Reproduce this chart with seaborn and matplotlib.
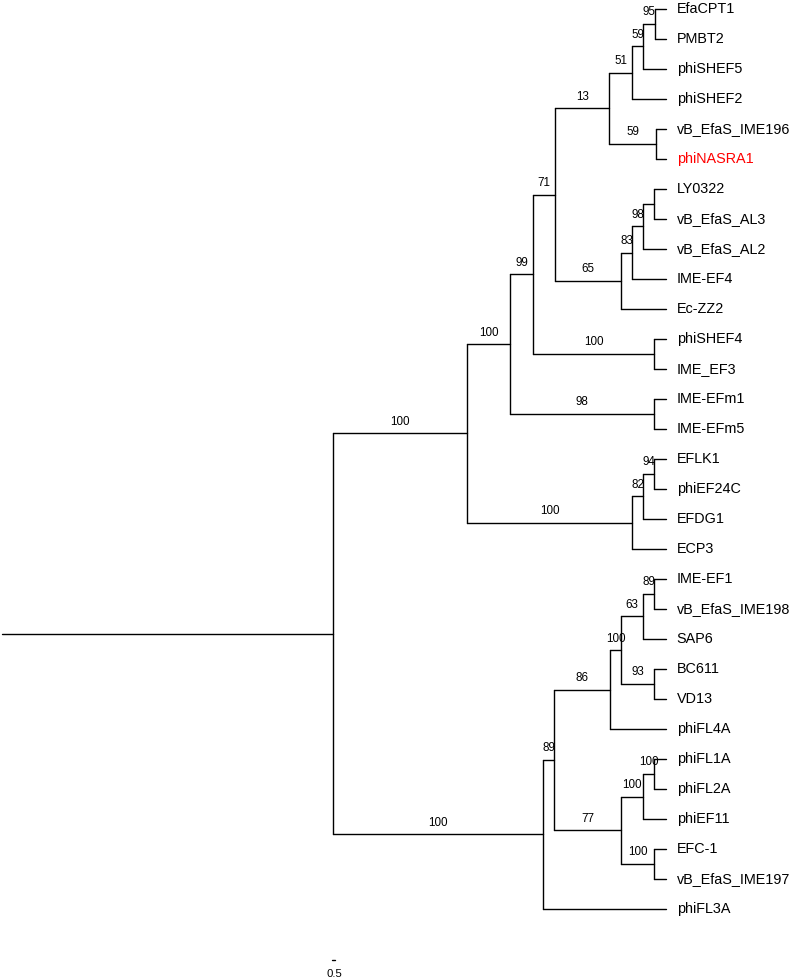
import pandas as pd
import matplotlib
matplotlib.use("Agg")
import matplotlib.pyplot as plt
import seaborn as sns

# tip labels, top to bottom, and the internal node each hangs from
leaves = ["EfaCPT1", "PMBT2", "phiSHEF5", "phiSHEF2", "vB_EfaS_IME196", "phiNASRA1",
          "LY0322", "vB_EfaS_AL3", "vB_EfaS_AL2", "IME-EF4", "Ec-ZZ2",
          "phiSHEF4", "IME_EF3", "IME-EFm1", "IME-EFm5",
          "EFLK1", "phiEF24C", "EFDG1", "ECP3",
          "IME-EF1", "vB_EfaS_IME198", "SAP6", "BC611", "VD13", "phiFL4A",
          "phiFL1A", "phiFL2A", "phiEF11", "EFC-1", "vB_EfaS_IME197", "phiFL3A"]
leaf_parent = ["L2", "L2", "L1", "J", "K", "K",
               "nLY", "nLY", "n98", "n83", "I",
               "G", "G", "F", "F",
               "n94", "n94", "n82", "E",
               "U", "U", "S", "T", "T", "N",
               "X", "X", "V", "W", "W", "L"]
highlight = "phiNASRA1"

# internal nodes: parent, depth from the start of the root edge, bootstrap
node_names = ["R", "A", "B", "C", "D", "H", "J", "L1", "L2", "K", "I", "n83", "n98", "nLY",
              "G", "F", "E", "n82", "n94",
              "L", "M", "N", "Q", "S", "U", "T", "P", "V", "X", "W"]
node_parent = [None, "R", "A", "B", "C", "D", "H", "J", "L1", "H", "D", "I", "n83", "n98",
               "C", "B", "A", "E", "n82",
               "R", "L", "M", "N", "Q", "S", "Q", "M", "P", "V", "P"]
node_depth = [55.2, 77.5, 84.7, 88.5, 92.2, 101.2, 105.0, 106.8, 108.8, 109.0, 103.2, 105.0, 106.8, 108.7,
              108.7, 108.7, 105.0, 106.8, 108.7,
              90.2, 92.0, 101.3, 103.2, 106.8, 108.7, 108.7, 103.2, 106.8, 108.7, 108.7]
support = ["", "100", "100", "99", "71", "13", "51", "59", "95", "59", "65", "83", "98", "",
           "100", "98", "100", "82", "94",
           "100", "89", "86", "100", "63", "89", "93", "77", "100", "100", "100"]
tip_depth = 110.6
scale_len = 0.5

# layout: tips at 0..n-1, internal nodes at the mean of their children
depth = dict(zip(node_names, node_depth))
parent = dict(zip(node_names, node_parent))
ypos = {name: i for i, name in enumerate(leaves)}
for name in leaves:
    depth[name] = tip_depth
for name, p in zip(leaves, leaf_parent):
    parent[name] = p
children = {n: [] for n in node_names}
for name, p in parent.items():
    if p is not None:
        children[p].append(name)


def place(n):
    if n in ypos:
        return ypos[n]
    ys = [place(c) for c in children[n]]
    ypos[n] = sum(ys) / len(ys)
    return ypos[n]


place("R")

rows = []
seg = 0
rows += [(seg, 0.0, ypos["R"]), (seg, depth["R"], ypos["R"])]
for name, p in parent.items():
    if p is None:
        continue
    seg += 1
    rows += [(seg, depth[p], ypos[name]), (seg, depth[name], ypos[name])]
for n in node_names:
    ys = [ypos[c] for c in children[n]]
    seg += 1
    rows += [(seg, depth[n], min(ys)), (seg, depth[n], max(ys))]
segs = pd.DataFrame(rows, columns=["seg", "x", "y"])

sns.set_theme(style="white")
plt.rcParams["font.family"] = ["Liberation Sans", "DejaVu Sans"]
plt.rcParams["text.color"] = "black"

fig = plt.figure(figsize=(7.96, 9.8), dpi=100)
ax = fig.add_axes([0, 0, 1, 1])
sns.lineplot(data=segs, x="x", y="y", units="seg", estimator=None, sort=False,
             color="black", linewidth=1.0, ax=ax, legend=False)

for name in leaves:
    ax.annotate(name, (tip_depth, ypos[name]), xytext=(8, 0), textcoords="offset points",
                va="center", ha="left", fontsize=10.4,
                color="red" if name == highlight else "black")

for n, lab in zip(node_names, support):
    if not lab or parent[n] is None:
        continue
    xm = (depth[parent[n]] + depth[n]) / 2
    ax.annotate(lab, (xm, ypos[n]), xytext=(0, 8.3), textcoords="offset points",
                va="center", ha="center", fontsize=8.4, color="black")

# scale bar
sb_x0 = 55.0
sb_y = 31.7
ax.plot([sb_x0, sb_x0 + scale_len], [sb_y, sb_y], color="black", linewidth=1.0)
ax.text(sb_x0 + scale_len / 2 + 0.1, sb_y + 0.45, str(scale_len), ha="center", va="center",
        fontsize=8.2, color="black")

ax.set_xlim(-0.35, 796 / 6 - 0.35)
ax.set_ylim((980 - 9) / 30, -0.3)
ax.axis("off")

fig.savefig("out.png", dpi=100)
